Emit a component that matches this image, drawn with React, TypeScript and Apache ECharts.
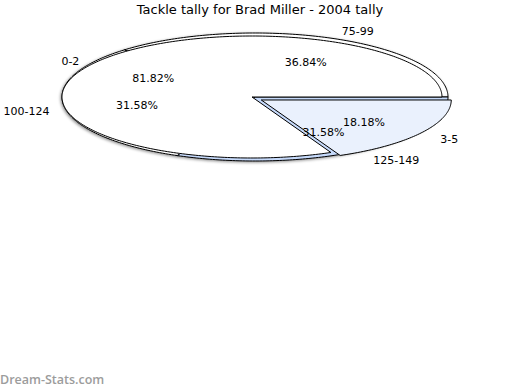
import React, { useEffect, useRef } from "react";
import * as echarts from "echarts";

const titleText = "Tackle tally for Brad Miller - 2004 tally";
const watermarkText = "Dream-Stats.com";

// Front pie
const pieANames = ["0-2", "3-5"];
const pieAValues = [9, 2];
const pieAColors = ["#ffffff", "#eaf1fd"];

// Back pie
const pieBNames = ["75-99", "100-124", "125-149"];
const pieBValues = [7, 6, 6];
const pieBColors = ["#ffffff", "#ffffff", "#c6dafb"];

type PieLayout = {
  cx: number;
  cy: number;
  rx: number;
  ry: number;
  explodeX: number[];
  explodeY: number[];
};

const layoutA: PieLayout = { cx: 252, cy: 97, rx: 190, ry: 61, explodeX: [0, 11], explodeY: [0, 5.5] };
const layoutB: PieLayout = { cx: 255, cy: 97, rx: 193, ry: 64, explodeX: [0, 0, 0], explodeY: [0, 0, 0] };

const FONT = "DejaVu Sans";

function sliceAngles(values: number[]) {
  const total = values.reduce((a, b) => a + b, 0);
  const out: { a0: number; a1: number; pct: number }[] = [];
  let acc = 0;
  for (const v of values) {
    const a0 = (acc / total) * Math.PI * 2;
    acc += v;
    const a1 = (acc / total) * Math.PI * 2;
    out.push({ a0, a1, pct: (v / total) * 100 });
  }
  return out;
}

function sliceCenter(L: PieLayout, i: number, mid: number) {
  return {
    x: L.cx + (L.explodeX[i] || 0) * Math.cos(mid),
    y: L.cy - (L.explodeY[i] || 0) * Math.sin(mid),
  };
}

function makeSliceSeries(values: number[], names: string[], colors: string[], L: PieLayout, z: number, shadow: boolean) {
  const angles = sliceAngles(values);
  return {
    type: "custom",
    coordinateSystem: "none",
    z,
    silent: true,
    data: values.map((v, i) => ({ value: v, name: names[i] })),
    renderItem: (params: any) => {
      const i = params.dataIndex;
      const { a0, a1 } = angles[i];
      const mid = (a0 + a1) / 2;
      const c = sliceCenter(L, i, mid);
      const pts: number[][] = [[c.x, c.y]];
      const steps = Math.max(8, Math.ceil(((a1 - a0) * 180) / Math.PI));
      for (let k = 0; k <= steps; k++) {
        const a = a0 + ((a1 - a0) * k) / steps;
        pts.push([c.x + L.rx * Math.cos(a), c.y - L.ry * Math.sin(a)]);
      }
      const style: any = {
        fill: colors[i],
        stroke: "#000",
        lineWidth: 1,
        lineJoin: "round",
      };
      if (shadow) {
        style.shadowBlur = 3;
        style.shadowColor = "rgba(0,0,0,0.45)";
        style.shadowOffsetX = -1;
        style.shadowOffsetY = 1;
      }
      return { type: "polygon", shape: { points: pts }, style };
    },
  };
}

function makeLabelSeries(values: number[], names: string[], L: PieLayout, z: number) {
  const angles = sliceAngles(values);
  return {
    type: "custom",
    coordinateSystem: "none",
    z,
    silent: true,
    data: values.map((v, i) => ({ value: v, name: names[i] })),
    renderItem: (params: any) => {
      const i = params.dataIndex;
      const { a0, a1, pct } = angles[i];
      const mid = (a0 + a1) / 2;
      const c = sliceCenter(L, i, mid);
      const inR = 0.63;
      const cosM = Math.cos(mid);
      const sinM = Math.sin(mid);
      const rightSide = cosM >= 0;
      const outRX = rightSide ? 1.12 : 1.08;
      return {
        type: "group",
        children: [
          {
            type: "text",
            x: c.x + L.rx * inR * cosM + 2,
            y: c.y - L.ry * inR * sinM + 2,
            style: {
              text: pct.toFixed(2) + "%",
              fill: "#000",
              fontSize: 11,
              fontFamily: FONT,
              align: "center",
              verticalAlign: "middle",
            },
          },
          {
            type: "text",
            x: c.x + L.rx * outRX * cosM,
            y: c.y - L.ry * 1.15 * sinM + 2,
            style: {
              text: names[i],
              fill: "#000",
              fontSize: 11,
              fontFamily: FONT,
              align: rightSide ? "left" : "right",
              verticalAlign: "middle",
            },
          },
        ],
      };
    },
  };
}

export default function App() {
  const ref = useRef<HTMLDivElement>(null);
  useEffect(() => {
    if (!ref.current) return;
    const chart = echarts.init(ref.current, undefined, { renderer: "svg" });
    chart.setOption({
      animation: false,
      backgroundColor: "#ffffff",
      title: {
        text: titleText,
        left: "center",
        top: 3,
        padding: [0, 5],
        textStyle: { fontSize: 13, fontWeight: "normal", fontFamily: FONT, color: "#000" },
      },
      graphic: [
        {
          type: "text",
          left: 0,
          top: 373,
          style: {
            text: watermarkText,
            fill: "#9c9c9c",
            fontSize: 12.5,
            fontWeight: 600,
            fontFamily: "Open Sans",
          },
        },
      ],
      series: [
        makeSliceSeries(pieBValues, pieBNames, pieBColors, layoutB, 1, true),
        makeSliceSeries(pieAValues, pieANames, pieAColors, layoutA, 2, false),
        makeLabelSeries(pieAValues, pieANames, layoutA, 3),
        makeLabelSeries(pieBValues, pieBNames, layoutB, 4),
      ],
    });
    return () => chart.dispose();
  }, []);
  return (
    <div
      ref={ref}
      style={{ position: "fixed", left: 0, top: 0, width: 520, height: 390 }}
    />
  );
}
